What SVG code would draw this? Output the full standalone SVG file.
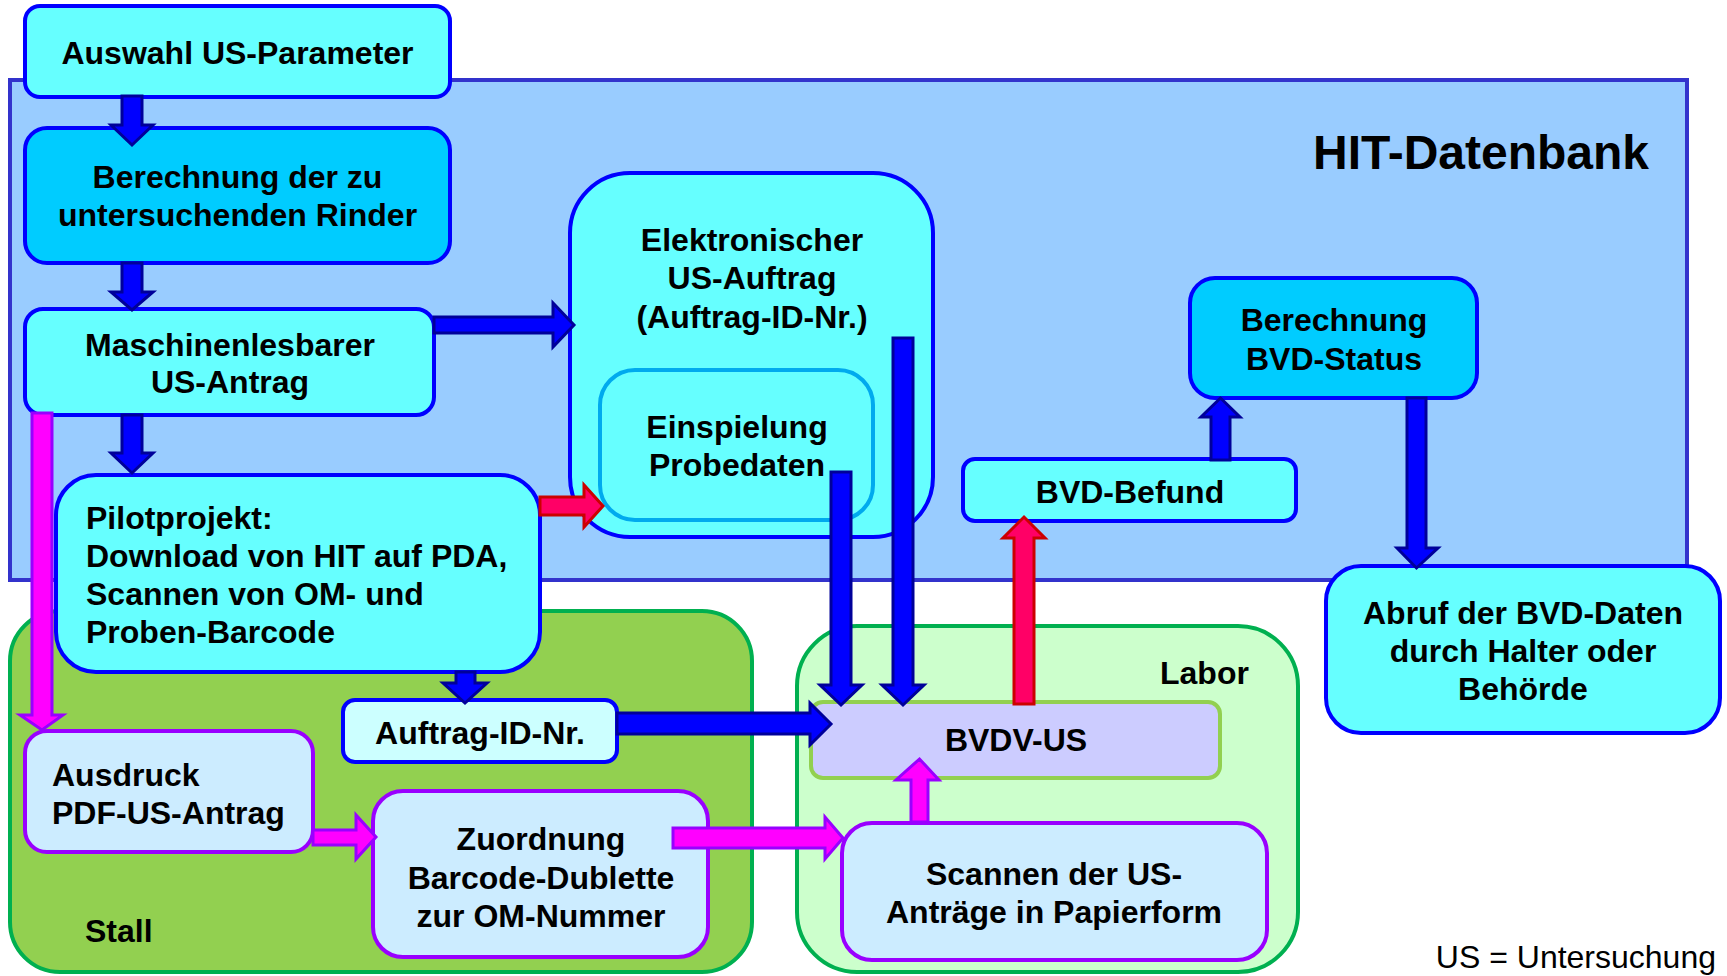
<svg xmlns="http://www.w3.org/2000/svg" width="1727" height="976" viewBox="0 0 1727 976">
<style>
text{font-family:"Liberation Sans",Arial,sans-serif;font-size:32px;font-weight:bold;fill:#000}
.c{text-anchor:middle}
.n{fill:#66ffff;stroke:#0000ff;stroke-width:4}
.d{fill:#00ccff;stroke:#0000ff;stroke-width:4}
.p{fill:#ccecff;stroke:#9900ff;stroke-width:4}
.ab{fill:#0000ff;stroke:#000099;stroke-width:3;stroke-linejoin:miter}
.ar{fill:#ff0066;stroke:#cc0000;stroke-width:3}
.am{fill:#ff00ff;stroke:#9900ff;stroke-width:3}
</style>
<rect width="1727" height="976" fill="#ffffff"/>
<g id="hit">
<rect x="10" y="80" width="1677" height="500" fill="#99ccff" stroke="#3333cc" stroke-width="4"/>
<text x="1313" y="169" style="font-size:48px">HIT-Datenbank</text>
</g>
<g id="stall">
<rect x="10" y="611" width="742" height="361" rx="50" fill="#92d050" stroke="#00b050" stroke-width="4"/>
<text x="85" y="942">Stall</text>
</g>
<g id="labor">
<rect x="797" y="626" width="501" height="346" rx="60" fill="#ccffcc" stroke="#00b050" stroke-width="4"/>
<text x="1160" y="684">Labor</text>
</g>
<g id="auswahl">
<rect class="n" x="25" y="6" width="425" height="91" rx="15"/>
<text class="c" x="237.5" y="64">Auswahl US-Parameter</text>
</g>
<g id="berechnung">
<rect class="d" x="25" y="128" width="425" height="135" rx="22"/>
<text class="c" x="237.5" y="188">Berechnung der zu</text>
<text class="c" x="237.5" y="226">untersuchenden Rinder</text>
</g>
<g id="maschinen">
<rect class="n" x="25" y="309" width="409" height="106" rx="18"/>
<text class="c" x="230" y="356">Maschinenlesbarer</text>
<text class="c" x="230" y="393">US-Antrag</text>
</g>
<g id="elektronisch">
<rect class="n" x="570" y="173" width="363" height="364" rx="60"/>
<text class="c" x="752" y="251">Elektronischer</text>
<text class="c" x="752" y="289">US-Auftrag</text>
<text class="c" x="752" y="328">(Auftrag-ID-Nr.)</text>
</g>
<g id="einspielung">
<rect x="600" y="370" width="273" height="150" rx="35" fill="#66ffff" stroke="#00aaee" stroke-width="4"/>
<text class="c" x="737" y="438">Einspielung</text>
<text class="c" x="737" y="476">Probedaten</text>
</g>
<g id="pilot">
<rect class="n" x="56" y="475" width="484" height="197" rx="40"/>
<text x="86" y="529">Pilotprojekt:</text>
<text x="86" y="567">Download von HIT auf PDA,</text>
<text x="86" y="605">Scannen von OM- und</text>
<text x="86" y="643">Proben-Barcode</text>
</g>
<g id="auftrag">
<rect x="343" y="700" width="274" height="62" rx="12" fill="#ccffff" stroke="#0000ff" stroke-width="4"/>
<text class="c" x="480" y="744">Auftrag-ID-Nr.</text>
</g>
<g id="ausdruck">
<rect class="p" x="25" y="731" width="288" height="121" rx="22"/>
<text x="52" y="786">Ausdruck</text>
<text x="52" y="824">PDF-US-Antrag</text>
</g>
<g id="zuordnung">
<rect class="p" x="373" y="791" width="335" height="166" rx="30"/>
<text class="c" x="541" y="850">Zuordnung</text>
<text class="c" x="541" y="889">Barcode-Dublette</text>
<text class="c" x="541" y="927">zur OM-Nummer</text>
</g>
<g id="bvdvus">
<rect x="811" y="702" width="409" height="76" rx="12" fill="#ccccff" stroke="#92d050" stroke-width="4"/>
<text class="c" x="1016" y="751">BVDV-US</text>
</g>
<g id="scannen">
<rect class="p" x="842" y="823" width="425" height="137" rx="30"/>
<text class="c" x="1054" y="885">Scannen der US-</text>
<text class="c" x="1054" y="923">Anträge in Papierform</text>
</g>
<g id="befund">
<rect class="n" x="963" y="459" width="333" height="62" rx="12"/>
<text class="c" x="1130" y="503">BVD-Befund</text>
</g>
<g id="status">
<rect class="d" x="1190" y="278" width="287" height="120" rx="25"/>
<text class="c" x="1334" y="331">Berechnung</text>
<text class="c" x="1334" y="370">BVD-Status</text>
</g>
<g id="abruf">
<rect class="n" x="1326" y="566" width="394" height="167" rx="35"/>
<text class="c" x="1523" y="624">Abruf der BVD-Daten</text>
<text class="c" x="1523" y="662">durch Halter oder</text>
<text class="c" x="1523" y="700">Behörde</text>
</g>
<g id="connectors">
<polygon class="ab" points="122,96 142,96 142,125 153,125 132,145 111,125 122,125"/>
<polygon class="ab" points="122,263 142,263 142,292 153,292 132,310 111,292 122,292"/>
<polygon class="ab" points="122,415 142,415 142,453 153,453 132,473 111,453 122,453"/>
<polygon class="ab" points="434,317 553,317 553,303 574,325 553,347 553,333 434,333"/>
<polygon class="ar" points="540,497 584,497 584,485 603,506 584,527 584,515 540,515"/>
<polygon class="ab" points="456,672 475,672 475,683 487,683 465,703 443,683 456,683"/>
<polygon class="am" points="32,413 52,413 52,715 63,715 42,730 20,715 32,715"/>
<polygon class="am" points="313,830 356,830 356,815 376,837 356,859 356,845 313,845"/>
<polygon class="am" points="673,828 825,828 825,817 843,838 825,859 825,848 673,848"/>
<polygon class="am" points="911,822 928,822 928,780 939,780 919.5,759 896,780 911,780"/>
<polygon class="ab" points="617,713 810,713 810,703 831,724 810,745 810,734 617,734"/>
<polygon class="ab" points="831,472 851,472 851,685 862,685 841,705 820,685 831,685"/>
<polygon class="ab" points="893,338 913,338 913,685 924,685 903,705 882,685 893,685"/>
<polygon class="ar" points="1014,704 1034,704 1034,538 1045,538 1024,517 1003,538 1014,538"/>
<polygon class="ab" points="1211,460 1230,460 1230,417 1240,417 1220.5,398 1201,417 1211,417"/>
<polygon class="ab" points="1407,398 1426,398 1426,548 1438,548 1416.5,568 1397,548 1407,548"/>
</g>
<text x="1716" y="968" style="font-weight:normal;text-anchor:end">US = Untersuchung</text>
</svg>
